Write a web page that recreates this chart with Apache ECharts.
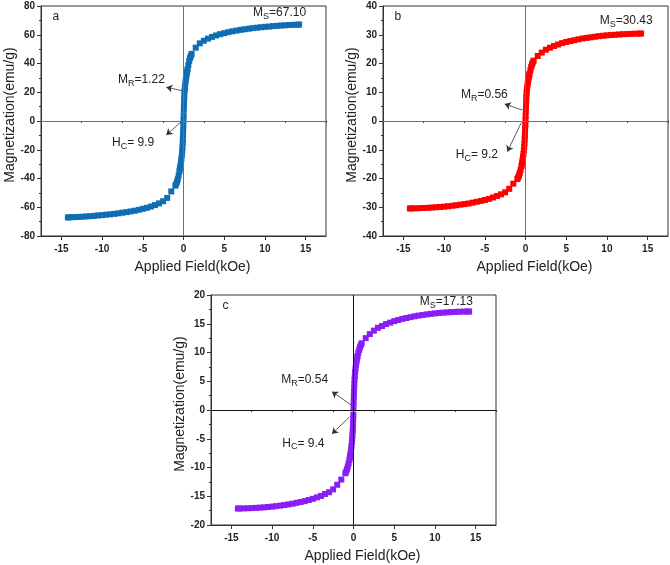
<!DOCTYPE html>
<html>
<head>
<meta charset="utf-8">
<script src="https://cdn.jsdelivr.net/npm/echarts@6/dist/echarts.min.js"></script>
<style>html,body{margin:0;padding:0;background:#fff}#c{width:670px;height:565px}</style>
</head>
<body>
<div id="c"></div>
<script>
// Applied field (kOe)
const fieldNeg = [-14.2, -14, -13.5, -13, -12.5, -12, -11.5, -11, -10.5, -10, -9.5, -9, -8.5, -8, -7.5, -7, -6.5, -6, -5.5, -5, -4.5, -4, -3.5, -3, -2.5, -2, -1.5, -1, -0.9, -0.8, -0.7, -0.6, -0.5, -0.45, -0.4, -0.35, -0.3, -0.25, -0.2, -0.16, -0.13, -0.1, -0.08, -0.06, -0.04, -0.02];
const fieldPos = [0, 0.02, 0.04, 0.06, 0.08, 0.1, 0.13, 0.16, 0.2, 0.25, 0.3, 0.35, 0.4, 0.45, 0.5, 0.6, 0.7, 0.8, 0.9, 1, 1.5, 2, 2.5, 3, 3.5, 4, 4.5, 5, 5.5, 6, 6.5, 7, 7.5, 8, 8.5, 9, 9.5, 10, 10.5, 11, 11.5, 12, 12.5, 13, 13.5, 14, 14.2];

// Magnetization (emu/g), panel a
const magANeg = [-67.1, -67.0, -66.9, -66.8, -66.6, -66.4, -66.2, -66.0, -65.7, -65.5, -65.2, -64.9, -64.6, -64.2, -63.8, -63.4, -62.9, -62.4, -61.8, -61.1, -60.4, -59.5, -58.5, -57.3, -55.8, -53.5, -49, -45, -43.8, -42.3, -40.5, -38, -35, -33.5, -31.8, -30, -28, -26, -23.5, -21, -18.5, -15.5, -13, -10, -6.5, -3];
const magAPos = [0.6, 4, 8, 11.5, 15, 18, 21, 23, 25, 27.5, 29.5, 31.3, 33, 34.6, 36, 39, 41.8, 43.8, 45.3, 46.7, 51, 54, 55.8, 57.3, 58.5, 59.5, 60.4, 61.1, 61.8, 62.4, 62.9, 63.4, 63.8, 64.2, 64.6, 64.9, 65.2, 65.5, 65.7, 66.0, 66.2, 66.4, 66.6, 66.8, 66.9, 67.0, 67.1];
// panel b
const magBNeg = [-30.43, -30.4, -30.37, -30.3, -30.25, -30.2, -30.1, -30.0, -29.9, -29.8, -29.65, -29.5, -29.3, -29.1, -28.9, -28.7, -28.4, -28.1, -27.8, -27.5, -27.1, -26.6, -26.1, -25.5, -24.8, -23.6, -21.8, -20.2, -19.6, -18.9, -18.0, -17.0, -15.8, -15.1, -14.3, -13.4, -12.5, -11.4, -10.2, -9.0, -7.8, -6.4, -5.2, -3.9, -2.6, -1.2];
const magBPos = [0.3, 1.8, 3.5, 5.2, 6.8, 8.2, 9.6, 10.6, 11.6, 12.7, 13.6, 14.4, 15.2, 15.9, 16.5, 17.7, 18.8, 19.7, 20.4, 21.0, 22.6, 23.8, 24.8, 25.5, 26.1, 26.6, 27.1, 27.5, 27.8, 28.1, 28.4, 28.7, 28.9, 29.1, 29.3, 29.5, 29.65, 29.8, 29.9, 30.0, 30.1, 30.2, 30.25, 30.3, 30.37, 30.4, 30.43];
// panel c
const magCNeg = [-17.13, -17.12, -17.11, -17.09, -17.06, -17.02, -16.98, -16.93, -16.87, -16.8, -16.72, -16.63, -16.53, -16.42, -16.3, -16.15, -16.0, -15.85, -15.65, -15.45, -15.2, -14.95, -14.6, -14.3, -13.8, -13.0, -12.1, -11.0, -10.7, -10.3, -9.8, -9.3, -8.7, -8.3, -7.9, -7.4, -6.9, -6.3, -5.6, -5.0, -4.4, -3.7, -3.1, -2.4, -1.6, -0.8];
const magCPos = [0.5, 1.4, 2.3, 3.1, 3.8, 4.5, 5.3, 5.9, 6.6, 7.2, 7.8, 8.3, 8.7, 9.1, 9.4, 10.0, 10.5, 10.9, 11.3, 11.6, 12.5, 13.2, 13.8, 14.3, 14.6, 14.95, 15.2, 15.45, 15.65, 15.85, 16.0, 16.15, 16.3, 16.42, 16.53, 16.63, 16.72, 16.8, 16.87, 16.93, 16.98, 17.02, 17.06, 17.09, 17.11, 17.12, 17.13];

// Tick labels
const xMajorTicks = [-15, -10, -5, 0, 5, 10, 15];
const xMinorTicks = [-17.5, -12.5, -7.5, -2.5, 2.5, 7.5, 12.5, 17.5];
const yRanges = [[-80, 80, 20], [-40, 40, 10], [-20, 20, 5]];

// Annotations
const panelLetters = ['a', 'b', 'c'];
const msValues = ['67.10', '30.43', '17.13'];
const mrValues = ['1.22', '0.56', '0.54'];
const hcValues = ['9.9', '9.2', '9.4'];

const FONT = "'Liberation Sans', Arial, sans-serif";
const colors = ['#0f6db3', '#ff0000', '#8a1ff5'];
const zeroColors = ['#707070', '#707070', '#111111'];
const grids = [
  {left: 41, top: 6, width: 285, height: 230},
  {left: 383, top: 6, width: 285, height: 230},
  {left: 211, top: 295, width: 285, height: 230}
];
// annotation anchor positions (data coords) per panel
const annot = [
  {letter: [-16.1, 72.3], ms: [8.54, 75.1], mr: [-8.05, 28.5], hc: [-8.78, -15.3],
   mrArrow: [[-0.16, 21.1], [-2.11, 23.4]], hcArrow: [[-0.28, -0.5], [-2.11, -9.7]]},
  {letter: [-16.1, 36.2], ms: [9.11, 34.8], mr: [-7.93, 9.04], hc: [-8.57, -11.8],
   mrArrow: [[-0.4, 3.83], [-2.56, 5.91]], hcArrow: [[-0.52, -0.59], [-2.23, -10.7]]},
  {letter: [-16.1, 18.1], ms: [8.15, 18.8], mr: [-8.88, 5.2], hc: [-8.75, -5.8],
   mrArrow: [[-0.28, 0.87], [-2.64, 3.18]], hcArrow: [[-0.49, -1.17], [-2.64, -4.17]]}
];

const mags = [[magANeg, magAPos], [magBNeg, magBPos], [magCNeg, magCPos]];
const field = fieldNeg.concat(fieldPos);

const xAxes = [], yAxes = [], series = [];
for (let p = 0; p < 3; p++) {
  xAxes.push({
    type: 'value', gridIndex: p, min: -17.5, max: 17.5,
    name: 'Applied Field(kOe)', nameLocation: 'middle', nameGap: 24,
    nameTextStyle: {fontFamily: FONT, fontSize: 14, color: '#222', padding: [0, 0, 0, 18]},
    axisLine: {show: true, onZero: false, lineStyle: {color: '#333', width: 1}},
    axisTick: {show: true, inside: false, length: 4, customValues: xMajorTicks, lineStyle: {color: '#333'}},
    axisLabel: {show: true, customValues: xMajorTicks, margin: 8, fontFamily: FONT, fontSize: 10, fontWeight: 'bold', color: '#222'},
    splitLine: {show: false}
  });
  xAxes.push({
    type: 'value', gridIndex: p, min: -17.5, max: 17.5, position: 'bottom',
    axisLine: {show: false},
    axisTick: {show: true, inside: false, length: 2, customValues: xMinorTicks, lineStyle: {color: '#333'}},
    axisLabel: {show: false},
    splitLine: {show: false}
  });
  const r = yRanges[p];
  yAxes.push({
    type: 'value', gridIndex: p, min: r[0], max: r[1], interval: r[2],
    name: 'Magnetization(emu/g)', nameLocation: 'middle', nameGap: 24,
    nameTextStyle: {fontFamily: FONT, fontSize: 14, color: '#222', padding: [0, 0, 0, 12]},
    axisLine: {show: true, onZero: false, lineStyle: {color: '#333', width: 1}},
    axisTick: {show: true, inside: false, length: 4, lineStyle: {color: '#333'}},
    minorTick: {show: true, splitNumber: 2, length: 2, lineStyle: {color: '#333'}},
    axisLabel: {margin: 6, fontFamily: FONT, fontSize: 10, fontWeight: 'bold', color: '#222'},
    splitLine: {show: false}
  });
  const data = field.map((x, i) => [x, mags[p][0].concat(mags[p][1])[i]]);
  series.push({
    type: 'line', xAxisIndex: p * 2, yAxisIndex: p, data: [], z: 1, silent: true,
    markLine: {silent: true, symbol: ['none', 'none'], animation: false, label: {show: false},
      lineStyle: {color: zeroColors[p], width: 1, type: 'solid'},
      data: [{xAxis: 0}, {yAxis: 0}]}
  });
  series.push({
    type: 'scatter', xAxisIndex: p * 2, yAxisIndex: p, data: data, z: 3,
    symbol: 'rect', symbolSize: 6, itemStyle: {color: colors[p], opacity: 1}
  });
  const a = annot[p];
  series.push({
    type: 'line', xAxisIndex: p * 2, yAxisIndex: p, data: [], z: 4, silent: true,
    markLine: {silent: true, symbol: ['none', 'arrow'], symbolSize: 6, animation: false, label: {show: false},
      lineStyle: {color: '#333', width: 0.8, type: 'solid'},
      data: [[{coord: a.mrArrow[0]}, {coord: a.mrArrow[1]}], [{coord: a.hcArrow[0]}, {coord: a.hcArrow[1]}]]}
  });
}

const chart = echarts.init(document.getElementById('c'), null, {renderer: 'canvas'});
chart.setOption({
  animation: false,
  backgroundColor: '#fff',
  grid: grids.map(g => Object.assign({show: true, borderColor: '#333', borderWidth: 1, backgroundColor: 'transparent'}, g)),
  xAxis: xAxes, yAxis: yAxes, series: series
});

const rich = {
  m: {fontFamily: FONT, fontSize: 12, lineHeight: 14, fill: '#222'},
  s: {fontFamily: FONT, fontSize: 9, lineHeight: 9, padding: [7, 0, 0, 0], fill: '#222'}
};
const graphics = [];
for (let p = 0; p < 3; p++) {
  const a = annot[p];
  const px = c => chart.convertToPixel({xAxisIndex: p * 2, yAxisIndex: p}, c);
  const addText = (pos, text) => {
    const q = px(pos);
    graphics.push({type: 'text', x: q[0], y: q[1], z: 10,
      style: {text: text, rich: rich, fontFamily: FONT, fontSize: 12, fill: '#222', align: 'left', verticalAlign: 'middle'}});
  };
  addText(a.letter, '{m|' + panelLetters[p] + '}');
  addText(a.ms, '{m|M}{s|S}{m|=' + msValues[p] + '}');
  addText(a.mr, '{m|M}{s|R}{m|=' + mrValues[p] + '}');
  addText(a.hc, '{m|H}{s|C}{m|= ' + hcValues[p] + '}');
}
chart.setOption({graphic: graphics});
</script>
</body>
</html>
